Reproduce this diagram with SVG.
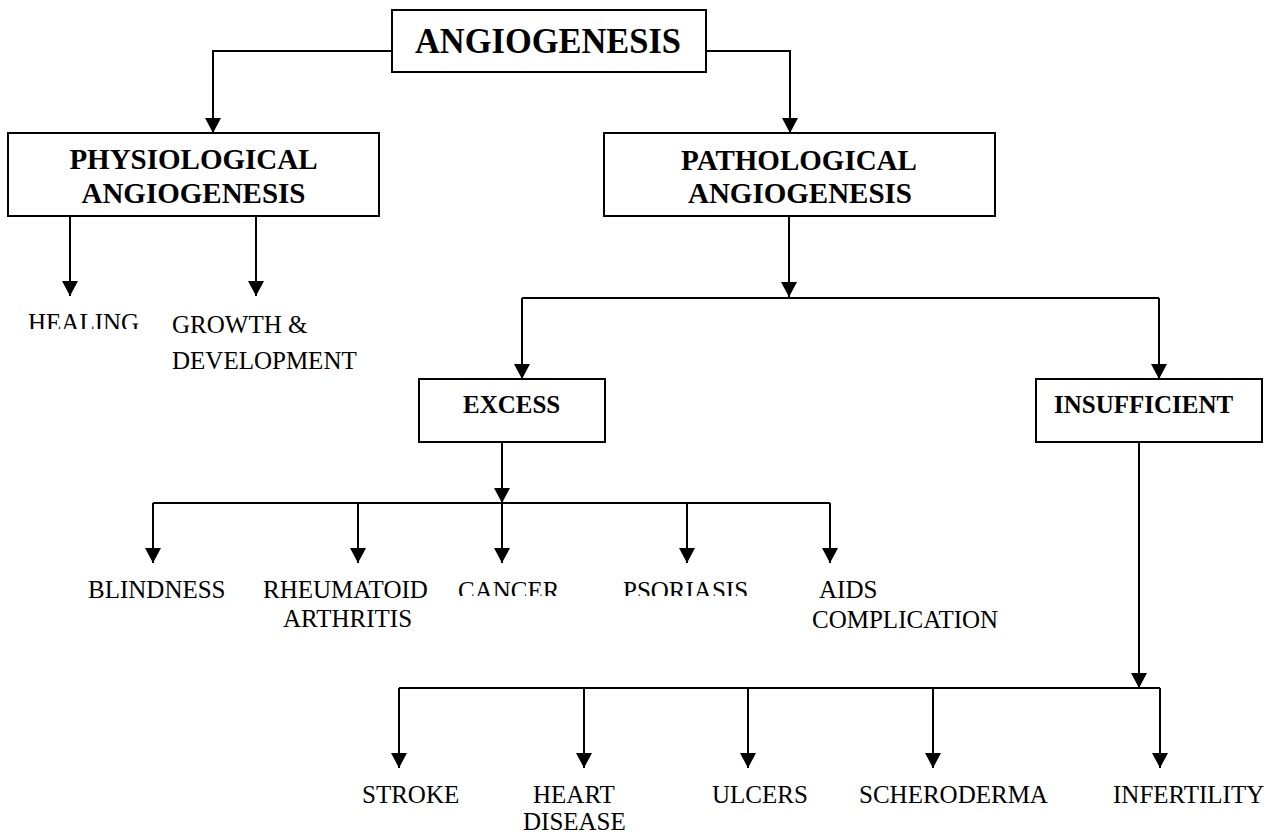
<svg xmlns="http://www.w3.org/2000/svg" width="1285" height="834" viewBox="0 0 1285 834">
<style>
.box{fill:#fff;stroke:#000;stroke-width:2}
.c{fill:none;stroke:#000;stroke-width:2;marker-end:url(#ah)}
.l{fill:none;stroke:#000;stroke-width:2}
.b{font-family:"Liberation Serif","Times New Roman",serif;font-weight:bold;fill:#000}
.t{font-family:"Liberation Serif","Times New Roman",serif;font-size:25px;fill:#000}
</style>
<defs>
<marker id="ah" markerUnits="userSpaceOnUse" markerWidth="15" markerHeight="16" refX="15" refY="8" orient="auto" viewBox="0 0 15 16">
<path d="M0,0 L15,8 L0,16 z" fill="#000"/>
</marker>
<clipPath id="clipA"><rect x="0" y="0" width="400" height="329"/></clipPath>
<clipPath id="clipB"><rect x="400" y="500" width="400" height="96"/></clipPath>
</defs>
<rect width="1285" height="834" fill="#fff"/>
<g id="connectors">
<path class="c" d="M392,51 H213 V133"/>
<path class="c" d="M706,51 H790 V133"/>
<path class="c" d="M70,216 V296"/>
<path class="c" d="M256,216 V296"/>
<path class="c" d="M789,216 V297"/>
<path class="l" d="M522,298 H1159"/>
<path class="c" d="M522,298 V379"/>
<path class="c" d="M1159,298 V379"/>
<path class="c" d="M502,442 V503"/>
<path class="l" d="M153,503 H830"/>
<path class="c" d="M153,503 V563"/>
<path class="c" d="M358,503 V563"/>
<path class="c" d="M502,503 V563"/>
<path class="c" d="M687,503 V563"/>
<path class="c" d="M830,503 V563"/>
<path class="c" d="M1139,442 V688"/>
<path class="l" d="M399,688 H1160"/>
<path class="c" d="M399,688 V768"/>
<path class="c" d="M584,688 V768"/>
<path class="c" d="M748,688 V768"/>
<path class="c" d="M933,688 V768"/>
<path class="c" d="M1160,688 V768"/>
</g>
<g id="angiogenesis">
<rect class="box" x="392" y="10" width="314" height="62"/>
<text class="b" x="415" y="53" font-size="36" textLength="266" lengthAdjust="spacingAndGlyphs">ANGIOGENESIS</text>
</g>
<g id="physiological">
<rect class="box" x="8" y="133" width="371" height="83"/>
<text class="b" x="193.5" y="169" font-size="29" text-anchor="middle">PHYSIOLOGICAL</text>
<text class="b" x="193.5" y="203" font-size="29" text-anchor="middle">ANGIOGENESIS</text>
</g>
<g id="pathological">
<rect class="box" x="604" y="133" width="391" height="83"/>
<text class="b" x="799" y="170" font-size="29" text-anchor="middle">PATHOLOGICAL</text>
<text class="b" x="800" y="203" font-size="29" text-anchor="middle">ANGIOGENESIS</text>
</g>
<g id="healing"><text class="t" x="28" y="331" clip-path="url(#clipA)">HEALING</text></g>
<g id="growth"><text class="t" x="172" y="333">GROWTH &amp;</text><text class="t" x="172" y="369">DEVELOPMENT</text></g>
<g id="excess">
<rect class="box" x="419" y="379" width="186" height="63"/>
<text class="b" x="463" y="413" font-size="25">EXCESS</text>
</g>
<g id="insufficient">
<rect class="box" x="1036" y="379" width="226" height="63"/>
<text class="b" x="1054" y="413" font-size="25">INSUFFICIENT</text>
</g>
<g id="blindness"><text class="t" x="88" y="598">BLINDNESS</text></g>
<g id="rheumatoid"><text class="t" x="263" y="598">RHEUMATOID</text><text class="t" x="283" y="627">ARTHRITIS</text></g>
<g id="cancer"><text class="t" x="458" y="599" clip-path="url(#clipB)">CANCER</text></g>
<g id="psoriasis"><text class="t" x="623" y="599" clip-path="url(#clipB)">PSORIASIS</text></g>
<g id="aids"><text class="t" x="819" y="598">AIDS</text><text class="t" x="812" y="628">COMPLICATION</text></g>
<g id="stroke"><text class="t" x="362" y="803">STROKE</text></g>
<g id="heart"><text class="t" x="533" y="803">HEART</text><text class="t" x="523" y="830">DISEASE</text></g>
<g id="ulcers"><text class="t" x="712" y="803">ULCERS</text></g>
<g id="scheroderma"><text class="t" x="859" y="803">SCHERODERMA</text></g>
<g id="infertility"><text class="t" x="1113" y="803">INFERTILITY</text></g>
</svg>
